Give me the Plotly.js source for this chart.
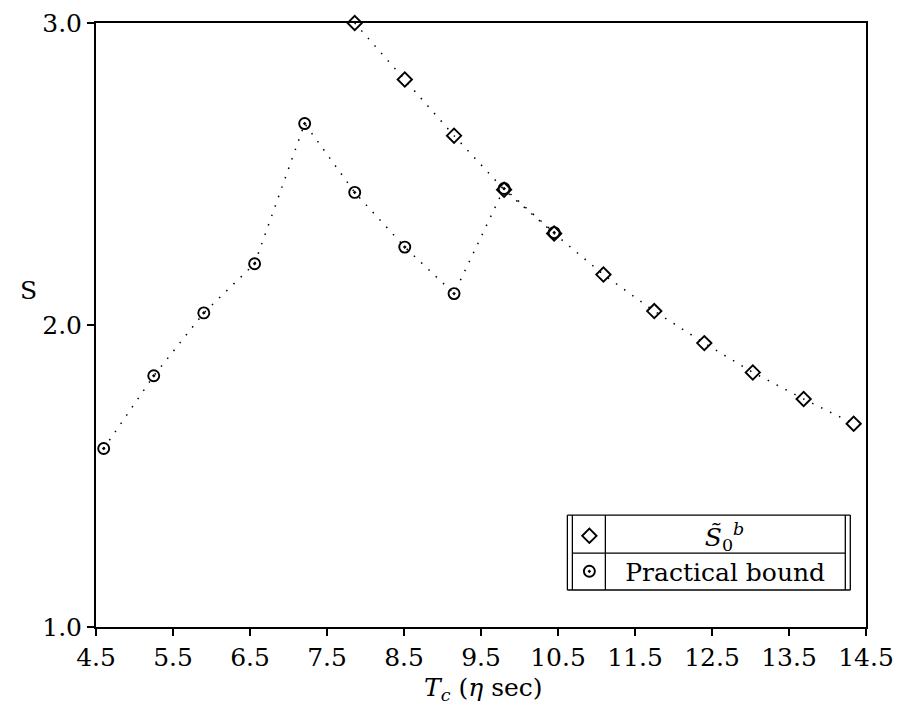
<!DOCTYPE html>
<html>
<head>
<meta charset="utf-8">
<script src="https://cdn.plot.ly/plotly-3.0.1.min.js"></script>
<style>html,body{margin:0;padding:0;background:#fff;}#chart{width:897px;height:717px;}</style>
</head>
<body>
<div id="chart"></div>
<script>
// Data
const boundX = [4.60, 5.25, 5.90, 6.56, 7.21, 7.86, 8.51, 9.15, 9.80, 10.45];
const boundY = [1.591, 1.832, 2.040, 2.203, 2.667, 2.439, 2.258, 2.104, 2.452, 2.306];
const s0X = [7.86, 8.51, 9.15, 9.80, 10.45, 11.09, 11.75, 12.40, 13.03, 13.69, 14.34];
const s0Y = [3.000, 2.813, 2.627, 2.448, 2.303, 2.167, 2.046, 1.940, 1.843, 1.755, 1.673];
const xTicks = [4.5, 5.5, 6.5, 7.5, 8.5, 9.5, 10.5, 11.5, 12.5, 13.5, 14.5];
const yTicks = [1.0, 2.0, 3.0];
const s0Name = "<i>S\u0303</i><sub>0</sub><sup><i>b</i></sup>";
const boundName = "Practical bound";

const FONT = "DejaVu Serif";
const NB = "\u00a0";
const dotLine = {color: "#000", width: 1.5, dash: "1.5px,8.5px"};

// pixel helpers for the legend table frame (plot area 95.5..865.7 x 22.7..627)
const L = 95.5, R = 865.7, T = 22.7, B = 627;
const px = v => (v - L) / (R - L);
const py = v => (B - v) / (B - T);

const traces = [
  {x: s0X, y: s0Y, mode: "lines", line: dotLine, showlegend: false, hoverinfo: "skip", cliponaxis: false},
  {x: boundX, y: boundY, mode: "lines", line: dotLine, showlegend: false, hoverinfo: "skip", cliponaxis: false},
  {x: s0X, y: s0Y, mode: "markers", name: NB.repeat(12) + s0Name, legendgroup: "a",
   marker: {symbol: "diamond-open", size: 11, color: "#000", line: {width: 1.9, color: "#000"}}, cliponaxis: false},
  {x: boundX, y: boundY, mode: "markers", name: NB.repeat(2) + boundName, legendgroup: "b",
   marker: {symbol: "circle-open-dot", size: 11, color: "#000", line: {width: 1.9, color: "#000"}}, cliponaxis: false}
];

const ln = (x0, y0, x1, y1) => ({type: "line", xref: "paper", yref: "paper",
  x0: px(x0), y0: py(y0), x1: px(x1), y1: py(y1), line: {color: "#000", width: 1.3}});

const axisStyle = {showgrid: false, zeroline: false, showline: true, linecolor: "#000", linewidth: 2,
  mirror: true, ticks: "outside", ticklen: 7, tickwidth: 1.5, tickcolor: "#000",
  tickfont: {family: FONT, size: 25, color: "#000"}};

const layout = {
  width: 897, height: 717,
  margin: {l: L, r: 897 - R, t: T, b: 717 - B, pad: 0},
  paper_bgcolor: "#fff", plot_bgcolor: "#fff",
  font: {family: FONT, size: 24, color: "#000"},
  xaxis: Object.assign({range: [4.5, 14.5], tickvals: xTicks, ticktext: xTicks.map(v => v.toFixed(1))}, axisStyle),
  yaxis: Object.assign({range: [1.0, 3.0], tickvals: yTicks, ticktext: yTicks.map(v => v.toFixed(1))}, axisStyle),
  showlegend: true,
  legend: {x: px(569), y: py(513), xanchor: "left", yanchor: "top",
    bgcolor: "rgba(0,0,0,0)", borderwidth: 0, traceorder: "grouped", tracegroupgap: 0,
    font: {family: FONT, size: 25, color: "#000"}},
  shapes: [
    ln(567, 515, 850, 515), ln(567, 590, 850, 590),
    ln(567, 515, 567, 590), ln(572, 515, 572, 590),
    ln(845, 515, 845, 590), ln(850, 515, 850, 590),
    ln(605, 515, 605, 590), ln(572, 553, 845, 553)
  ],
  annotations: [
    {text: "<i>T</i><sub><i>c</i></sub> (<i>\u03b7</i> sec)", xref: "paper", yref: "paper",
     x: px(483), y: py(689), xanchor: "center", yanchor: "middle", showarrow: false,
     font: {family: FONT, size: 25}},
    {text: "S", xref: "paper", yref: "paper", x: px(28), y: py(290),
     xanchor: "center", yanchor: "middle", showarrow: false, font: {family: FONT, size: 25}}
  ]
};

Plotly.newPlot("chart", traces, layout, {displayModeBar: false, staticPlot: true});
</script>
</body>
</html>
